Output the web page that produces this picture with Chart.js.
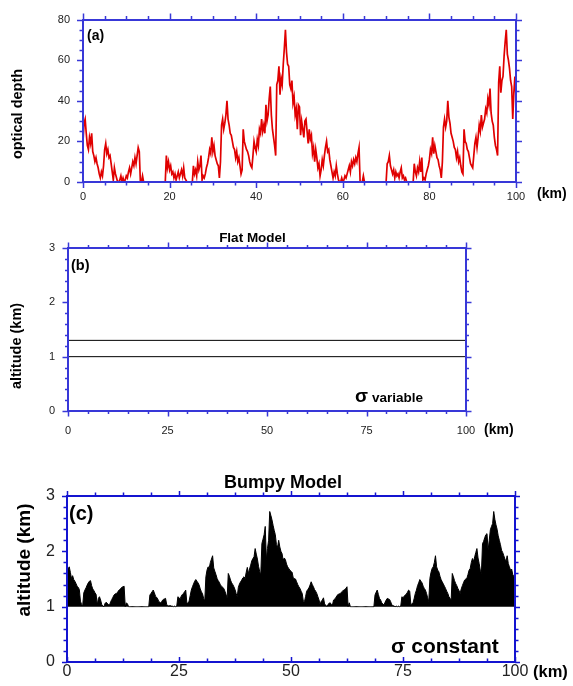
<!DOCTYPE html>
<html>
<head>
<meta charset="utf-8">
<script src="https://cdn.jsdelivr.net/npm/chart.js@4.4.1/dist/chart.umd.min.js"></script>
<style>
  html, body { margin: 0; padding: 0; background: #ffffff; }
  body { width: 573px; height: 686px; position: relative; overflow: hidden; }
  canvas { position: absolute; left: 0; }
</style>
</head>
<body>
<canvas id="cA" width="573" height="215" style="top:0px"></canvas>
<canvas id="cB" width="573" height="235" style="top:215px"></canvas>
<canvas id="cC" width="573" height="236" style="top:450px"></canvas>
<script>
// ---------------- DATA ----------------
const STEP_KM = 0.25;           // sampling step of the profiles (km)

// (a) optical depth, 0 .. 50.75 km
const tauFirst = [
  20,29,31,24,18,16,22,19,24,15,13,10,12,9,7,4,2,5,3,8,
  16,19,14,16,12,13,9,5,1,7,4,2,0,0,1,3,0,2,0,1,
  3,2,5,7,4,7,10,8,12,9,13,17,15,0,0,3,0,0,0,0,
  0,0,0,0,0,0,0,0,0,0,0,0,0,0,0,0,0,13,7,10,
  6,8,4,5,2,4,1,3,5,2,4,6,3,7,2,1,0,0,0,0,
  0,0,8,4,6,3,10,6,8,13,1,3,2,4,7,9,12,16,14,22,
  15,18,13,11,9,8,2,10,28,31,26,29,33,40,31,28,24,23,20,17,
  16,12,15,10,12,8,4,6,26,20,18,16,15,13,10,8,7,13,20,17,
  15,21,18,26,24,31,25,28,24,38,30,33,41,47,33,26,22,18,13,48,
  50,57,43,51,48,58,66,75,64,58,57,48,46,50,39,42,33,36,26,38,
  37,23,30,26
];
// (a) optical depth, 51 .. 100 km
const tauSecond = [
  22,30,31,25,19,26,21,23,14,17,10,16,12,7,9,3,6,11,8,13,
  17,20,15,16,11,8,5,2,5,3,8,4,1,0,0,2,0,1,3,2,
  4,6,8,5,10,8,11,9,12,10,14,17,0,0,0,3,0,0,0,0,
  0,0,0,0,0,0,0,0,0,0,0,0,0,0,0,0,0,9,10,13,
  8,6,4,6,2,5,3,4,2,5,7,2,3,1,2,0,0,0,0,0,
  0,0,9,5,3,7,5,10,5,12,1,2,1,4,6,8,11,16,14,22,
  14,18,15,12,11,8,6,2,10,27,31,27,30,40,32,29,24,22,20,17,
  16,12,15,10,12,8,5,4,26,20,19,16,15,12,9,8,7,13,19,22,
  17,22,28,25,33,27,29,31,36,34,41,38,46,34,30,28,22,18,16,13,
  49,57,44,50,52,62,69,75,63,60,56,50,47,31,44,52,42
];

// (b) flat model: cloud base and top (km)
const flatKm = [0, 100];
const flatBase = [1.0, 1.0];
const flatTop = [1.3, 1.3];

// (c) bumpy model: cloud top altitude (km), 0 .. 100 km, base at 1 km
const bumpyTop = [
  1.60,1.68,1.72,1.62,1.51,1.56,1.49,1.46,1.42,1.37,1.35,1.31,1.10,1.04,1.02,1.25,1.30,1.34,1.39,1.43,
  1.46,1.47,1.38,1.32,1.29,1.25,1.22,1.03,1.15,1.18,1.12,1.04,1.01,1.00,1.06,1.08,1.06,1.04,1.03,1.09,
  1.13,1.17,1.21,1.23,1.24,1.25,1.29,1.31,1.33,1.35,1.36,1.37,1.00,1.07,1.05,1.00,1,1,1,1,
  1,1,1,1,1,1,1,1,1,1,1,1,1,1,1.21,1.24,1.27,1.30,1.25,1.19,
  1.17,1.14,1.09,1.08,1.06,1.11,1.13,1.14,1.15,1.04,1.02,1.01,1.02,1.01,1.01,1.00,1.01,1.00,1.01,1.18,
  1.16,1.14,1.19,1.22,1.24,1.27,1.30,1.07,1.06,1.10,1.20,1.30,1.36,1.41,1.46,1.49,1.46,1.43,1.39,1.32,
  1.27,1.23,1.15,1.10,1.54,1.66,1.72,1.70,1.80,1.86,1.92,1.70,1.64,1.58,1.51,1.47,1.44,1.39,1.37,1.35,
  1.33,1.28,1.22,1.15,1.60,1.55,1.48,1.43,1.40,1.36,1.31,1.24,1.18,1.35,1.41,1.45,1.48,1.52,1.54,1.51,
  1.62,1.71,1.60,1.68,1.75,1.83,1.87,1.90,2.05,1.95,1.86,1.73,1.64,1.57,2.14,2.22,2.30,2.45,1.85,2.05,
  2.20,2.72,2.65,2.57,2.47,2.38,2.30,2.12,2.07,2.20,2.08,2.00,1.96,1.84,1.88,1.85,1.77,1.72,1.69,1.66,
  1.64,1.62,1.52,1.51,1.50,1.45,1.40,1.36,1.33,1.28,1.24,1.10,1.09,1.18,1.28,1.31,1.34,1.39,1.45,1.40,
  1.36,1.31,1.28,1.24,1.18,1.12,1.04,1.10,1.12,1.16,1.05,1.03,1.00,1.04,1.06,1.07,1.04,1.03,1.12,1.14,
  1.16,1.20,1.22,1.23,1.24,1.26,1.28,1.30,1.31,1.33,1.36,1.00,1.07,1.00,1,1,1,1,1,1,
  1,1,1,1,1,1,1,1,1,1,1,1,1,1,1,1.21,1.26,1.30,1.22,1.15,
  1.12,1.07,1.05,1.03,1.08,1.12,1.15,1.14,1.13,1.09,1.03,1.02,1.01,1.00,1.01,1.00,1.01,1.00,1.01,1.18,
  1.16,1.19,1.21,1.23,1.26,1.30,1.28,1.04,1.05,1.07,1.15,1.24,1.30,1.38,1.43,1.49,1.46,1.43,1.37,1.33,
  1.30,1.24,1.16,1.09,1.51,1.62,1.69,1.72,1.80,1.92,1.72,1.66,1.63,1.55,1.49,1.45,1.41,1.37,1.33,1.28,
  1.24,1.18,1.15,1.12,1.60,1.54,1.47,1.42,1.38,1.33,1.29,1.24,1.32,1.38,1.43,1.48,1.50,1.51,1.58,1.66,
  1.69,1.80,1.87,1.82,1.90,1.98,2.05,1.88,1.78,1.66,1.60,2.14,2.18,2.25,2.30,2.32,2.02,2.20,2.39,2.45,
  2.50,2.72,2.58,2.48,2.40,2.28,2.20,2.12,2.02,1.98,1.92,1.86,1.82,1.92,1.78,1.72,1.66,1.68,1.58,1.54,1.62
];
const bumpyBase = 1.0;

// axis ticks
const ticksA = { x: { major: 20, minor: 5 }, y: { major: 20, minor: 5 } };
const ticksB = { x: { major: 25, minor: 5 }, y: { major: 1, minor: 0.2 } };
const ticksC = { x: { major: 25, minor: 6.25 }, y: { major: 1, minor: 0.2 } };

// ---------------- HELPERS ----------------
const FONT = '"Liberation Sans", Arial, Helvetica, sans-serif';
const tauAll = tauFirst.concat(tauSecond);
const toXY = (vals) => vals.map((v, i) => ({ x: i * STEP_KM, y: v }));
const pairXY = (xs, ys) => xs.map((x, i) => ({ x: x, y: ys[i] }));

const framePlugin = {
  id: 'frame',
  afterDraw(chart, args, opts) {
    const ctx = chart.ctx, a = chart.chartArea;
    const xs = chart.scales.x, ys = chart.scales.y;
    ctx.save();
    ctx.strokeStyle = opts.color;
    ctx.lineWidth = opts.tickWidth;
    ctx.beginPath();
    const nx = Math.round((xs.max - xs.min) / opts.ticks.x.minor);
    const rx = Math.round(opts.ticks.x.major / opts.ticks.x.minor);
    for (let i = 0; i <= nx; i++) {
      const v = xs.min + i * opts.ticks.x.minor;
      const L = (i % rx === 0) ? opts.major : opts.minor;
      const p = Math.round(xs.getPixelForValue(v)) + 0.5;
      ctx.moveTo(p, a.bottom); ctx.lineTo(p, a.bottom + (opts.bottomIn ? -L : L));
      ctx.moveTo(p, a.top); ctx.lineTo(p, a.top - L);
    }
    const ny = Math.round((ys.max - ys.min) / opts.ticks.y.minor);
    const ry = Math.round(opts.ticks.y.major / opts.ticks.y.minor);
    for (let i = 0; i <= ny; i++) {
      const v = ys.min + i * opts.ticks.y.minor;
      const L = (i % ry === 0) ? opts.major : opts.minor;
      const p = Math.round(ys.getPixelForValue(v)) + 0.5;
      ctx.moveTo(a.left, p); ctx.lineTo(a.left - L, p);
      ctx.moveTo(a.right, p); ctx.lineTo(a.right + L, p);
    }
    ctx.stroke();
    ctx.fillStyle = '#000';
    (opts.texts || []).forEach(t => {
      ctx.font = t.font;
      ctx.textAlign = t.align || 'left';
      ctx.textBaseline = t.baseline || 'alphabetic';
      if (t.rot) {
        ctx.save();
        ctx.translate(t.x, t.y);
        ctx.rotate(-Math.PI / 2);
        ctx.fillText(t.text, 0, 0);
        ctx.restore();
      } else {
        ctx.fillText(t.text, t.x, t.y);
      }
    });
    ctx.restore();
  }
};

function makeScales(o) {
  const border = { display: true, color: o.axisColor, width: 2, z: 1 };
  const noGrid = { display: false, drawOnChartArea: false, drawTicks: false };
  const tickFont = { family: FONT, size: o.tickSize };
  return {
    x: {
      type: 'linear', position: 'bottom', min: 0, max: 100, z: 1,
      ticks: { stepSize: o.xMajor, padding: o.xPad, font: tickFont, color: '#222', maxRotation: 0, autoSkip: false },
      grid: noGrid, border: border,
      afterFit: s => { s.height = o.bottomH; }
    },
    x2: {
      type: 'linear', position: 'top', min: 0, max: 100, z: 1,
      ticks: { display: false }, grid: noGrid, border: border,
      afterFit: s => { s.height = o.topH; }
    },
    y: {
      type: 'linear', position: 'left', min: 0, max: o.yMax, z: 1,
      ticks: { stepSize: o.yMajor, padding: o.yPad, font: tickFont, color: '#222' },
      grid: noGrid, border: border,
      afterFit: s => { s.width = o.leftW; }
    },
    y2: {
      type: 'linear', position: 'right', min: 0, max: o.yMax, z: 1,
      ticks: { display: false }, grid: noGrid, border: border,
      afterFit: s => { s.width = o.rightW; }
    }
  };
}

function baseOptions(scales, frame) {
  return {
    responsive: false, animation: false, devicePixelRatio: 1,
    layout: { padding: 0 },
    elements: { point: { radius: 0 }, line: { tension: 0 } },
    plugins: { legend: { display: false }, tooltip: { enabled: false }, title: { display: false }, frame: frame },
    scales: scales
  };
}

// ---------------- (a) ----------------
const blueAB = '#3838d8';
new Chart(document.getElementById('cA'), {
  type: 'line',
  data: { datasets: [{ data: toXY(tauAll), borderColor: '#e00000', borderWidth: 1.7, fill: false }] },
  options: baseOptions(
    makeScales({ axisColor: blueAB, tickSize: 11, xMajor: 20, yMajor: 20, yMax: 80,
                 xPad: 8, yPad: 13, bottomH: 33, topH: 19, leftW: 83, rightW: 57 }),
    { color: blueAB, tickWidth: 1.5, major: 6, minor: 3.5, ticks: ticksA,
      texts: [
        { text: '(a)', x: 87, y: 40, font: 'bold 14px ' + FONT },
        { text: 'optical depth', x: 18, y: 114, rot: true, align: 'center', baseline: 'middle', font: 'bold 14.5px ' + FONT },
        { text: '(km)', x: 537, y: 194, baseline: 'middle', font: 'bold 14px ' + FONT }
      ] }
  ),
  plugins: [framePlugin]
});

// ---------------- (b) ----------------
const TB = 215;
new Chart(document.getElementById('cB'), {
  type: 'line',
  data: { datasets: [
    { data: pairXY(flatKm, flatBase), borderColor: '#000', borderWidth: 1, fill: false },
    { data: pairXY(flatKm, flatTop), borderColor: '#000', borderWidth: 1, fill: false }
  ] },
  options: baseOptions(
    makeScales({ axisColor: blueAB, tickSize: 11, xMajor: 25, yMajor: 1, yMax: 3,
                 xPad: 13, yPad: 13, bottomH: 235 - (411 - TB), topH: 248 - TB, leftW: 68, rightW: 573 - 466 }),
    { color: blueAB, tickWidth: 1.5, major: 5.5, minor: 3, ticks: ticksB,
      texts: [
        { text: 'Flat Model', x: 252.5, y: 242 - TB, align: 'center', font: 'bold 13.5px ' + FONT },
        { text: '(b)', x: 71, y: 270 - TB, font: 'bold 14.5px ' + FONT },
        { text: 'altitude (km)', x: 17, y: 346 - TB, rot: true, align: 'center', baseline: 'middle', font: 'bold 14.5px ' + FONT },
        { text: '(km)', x: 484, y: 430 - TB, baseline: 'middle', font: 'bold 14px ' + FONT },
        { text: 'σ', x: 355, y: 402 - TB, font: 'bold 19px ' + FONT },
        { text: 'variable', x: 372, y: 402 - TB, font: 'bold 13.5px ' + FONT }
      ] }
  ),
  plugins: [framePlugin]
});

// ---------------- (c) ----------------
const TC = 450;
const blueC = '#1414d0';
new Chart(document.getElementById('cC'), {
  type: 'line',
  data: { datasets: [
    { data: toXY(bumpyTop), borderColor: '#000', borderWidth: 1, backgroundColor: '#000', fill: { value: bumpyBase } }
  ] },
  options: baseOptions(
    makeScales({ axisColor: blueC, tickSize: 16, xMajor: 25, yMajor: 1, yMax: 3,
                 xPad: 0, yPad: 12, bottomH: 236 - (662 - TC), topH: 496 - TC, leftW: 67, rightW: 573 - 515 }),
    { color: blueC, tickWidth: 1.5, major: 5, minor: 3.5, ticks: ticksC, bottomIn: true,
      texts: [
        { text: 'Bumpy Model', x: 283, y: 488 - TC, align: 'center', font: 'bold 18px ' + FONT },
        { text: '(c)', x: 69, y: 520 - TC, font: 'bold 20px ' + FONT },
        { text: 'altitude (km)', x: 25, y: 560 - TC, rot: true, align: 'center', baseline: 'middle', font: 'bold 19px ' + FONT },
        { text: '(km)', x: 533, y: 672 - TC, baseline: 'middle', font: 'bold 16.5px ' + FONT },
        { text: 'σ constant', x: 391, y: 653 - TC, font: 'bold 21px ' + FONT }
      ] }
  ),
  plugins: [framePlugin]
});
</script>
</body>
</html>
